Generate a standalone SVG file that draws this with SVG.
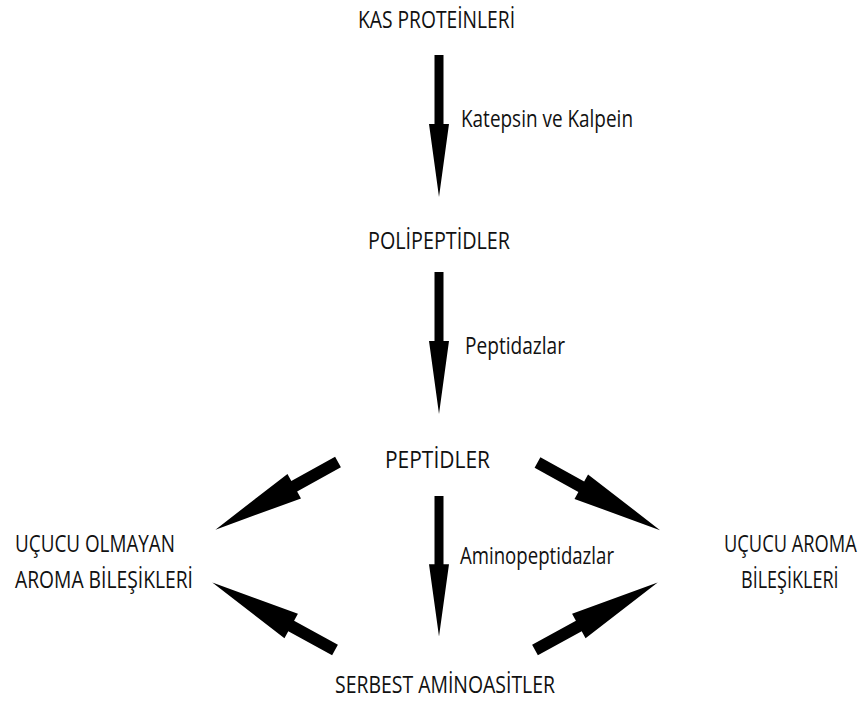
<svg xmlns="http://www.w3.org/2000/svg" width="867" height="701" viewBox="0 0 867 701">
<style>
text{font-family:"Open Sans","Noto Sans","DejaVu Sans",sans-serif;font-size:24px;fill:#111}
.arrow{fill:#000}
</style>
<defs>
<polygon id="va" points="0,-4.5 69,-4.5 69,-10 142,0 69,10 69,4.5 0,4.5"/>
<polygon id="da" points="0,-6 50,-6 50,-14 140,0 50,14 50,6 0,6"/>
</defs>
<rect width="867" height="701" fill="#fff"/>
<g id="connectors" class="arrow">
<use href="#va" transform="translate(439,55) rotate(90)"/>
<use href="#va" transform="translate(439,272) rotate(90)"/>
<use href="#va" transform="translate(439,496) rotate(90) scale(0.99,1)"/>
<use href="#da" transform="translate(338,462) rotate(151.1)"/>
<use href="#da" transform="translate(537.5,462.5) rotate(28.9)"/>
<use href="#da" transform="translate(335,650) rotate(-151.2)"/>
<use href="#da" transform="translate(535,650) rotate(-28.8)"/>
</g>
<g id="kas"><text x="358" y="28" textLength="157" lengthAdjust="spacingAndGlyphs">KAS PROTEİNLERİ</text></g>
<g id="label1"><text x="461" y="127" textLength="172" lengthAdjust="spacingAndGlyphs">Katepsin ve Kalpein</text></g>
<g id="polipeptidler"><text x="368" y="249" textLength="142" lengthAdjust="spacingAndGlyphs">POLİPEPTİDLER</text></g>
<g id="label2"><text x="465" y="354" textLength="100" lengthAdjust="spacingAndGlyphs">Peptidazlar</text></g>
<g id="peptidler"><text x="385" y="468" textLength="105" lengthAdjust="spacingAndGlyphs">PEPTİDLER</text></g>
<g id="label3"><text x="460" y="564" textLength="154" lengthAdjust="spacingAndGlyphs">Aminopeptidazlar</text></g>
<g id="serbest"><text x="335" y="693" textLength="220" lengthAdjust="spacingAndGlyphs">SERBEST AMİNOASİTLER</text></g>
<g id="ucucu-olmayan">
<text x="15" y="552" textLength="160" lengthAdjust="spacingAndGlyphs">UÇUCU OLMAYAN</text>
<text x="15" y="588" textLength="178" lengthAdjust="spacingAndGlyphs">AROMA BİLEŞİKLERİ</text>
</g>
<g id="ucucu-aroma">
<text transform="translate(724,552) scale(0.82,1)" x="0" y="0" textLength="162" lengthAdjust="spacingAndGlyphs">UÇUCU AROMA</text>
<text transform="translate(741,588) scale(0.82,1)" x="0" y="0" textLength="119" lengthAdjust="spacingAndGlyphs">BİLEŞİKLERİ</text>
</g>
</svg>
